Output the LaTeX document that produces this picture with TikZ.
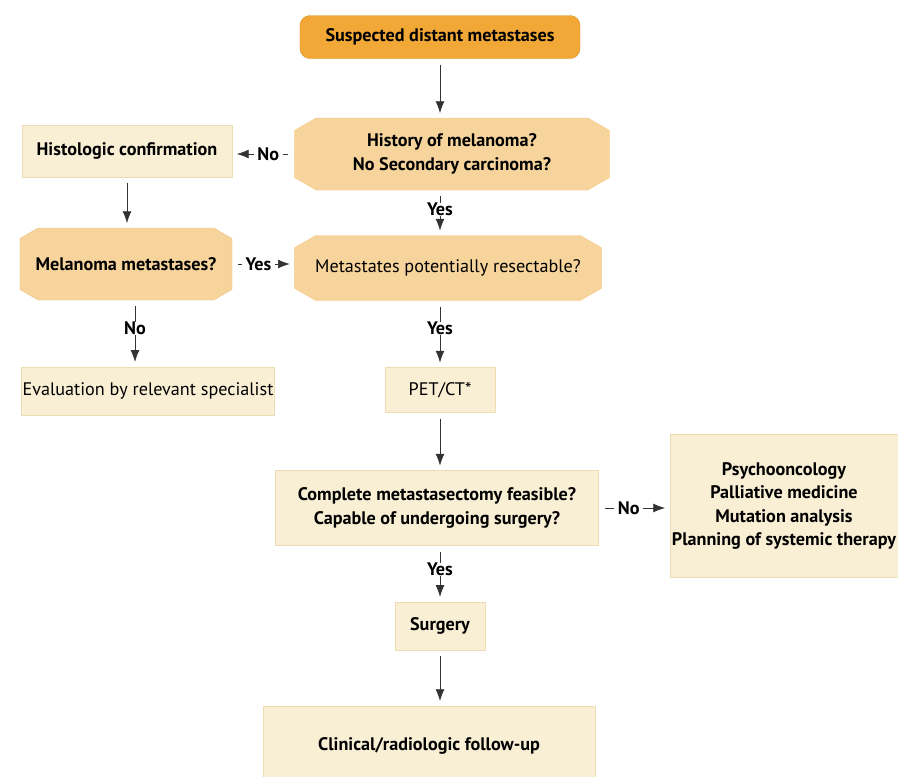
\documentclass[tikz,border=0pt]{standalone}
\usepackage{fontspec}
\setmainfont{PT Sans}
\usepackage{xcolor}
\usepackage{tikz}
\usetikzlibrary{arrows.meta,positioning,shapes.misc,calc}
\definecolor{toporange}{HTML}{F1A836}
\definecolor{hexfill}{HTML}{F6D49C}
\definecolor{boxfill}{HTML}{F9EFD5}
\definecolor{boxline}{HTML}{EEDDB4}

\begin{document}
\begin{tikzpicture}[x=0.03cm, y=-0.03cm, font=\fontsize{15.5}{20}\selectfont,
    startbox/.style={rounded corners=0.3cm, fill=toporange, draw=toporange!90!black, font=\fontsize{15.5}{20}\selectfont\bfseries, inner sep=0pt},
    question/.style={chamfered rectangle, chamfered rectangle angle=60, chamfered rectangle xsep=0.45cm, fill=hexfill, draw=hexfill!85!orange, inner sep=0pt, align=center},
    plainbox/.style={rectangle, fill=boxfill, draw=boxline, inner sep=0pt, align=center},
    bold/.style={font=\fontsize{15.5}{20}\selectfont\bfseries},
    arr/.style={-{Latex[length=10pt,width=7.5pt]}, draw=black!80, semithick, shorten <=5pt, shorten >=4pt},
    lbl/.style={fill=white, inner xsep=3pt, inner ysep=0pt, pos=0.42, font=\fontsize{15.5}{20}\selectfont\bfseries}]
    \useasboundingbox (0,0) rectangle (898,776);

    % Start
    \node[startbox, minimum width=8.4cm, minimum height=1.29cm] (susp) at (440,37) {Suspected distant metastases};

    % Questions
    \node[question, bold, minimum width=9.45cm, minimum height=2.16cm] (hist) at (452,154) {History of melanoma?\\No Secondary carcinoma?};
    \node[question, minimum width=9.2cm, minimum height=1.95cm] (resect) at (448,268) {Metastates potentially resectable?};
    \node[question, bold, minimum width=6.36cm, minimum height=2.16cm] (melmet) at (126,264) {Melanoma metastases?};

    % Boxes
    \node[plainbox, bold, minimum width=6.3cm, minimum height=1.55cm] (histo) at (127,151) {Histologic confirmation};
    \node[plainbox, minimum width=7.6cm, minimum height=1.45cm] (evalspec) at (148,391) {Evaluation by relevant specialist};
    \node[plainbox, minimum width=3.3cm, minimum height=1.35cm] (petct) at (440,390) {PET/CT*};
    \node[plainbox, bold, minimum width=9.7cm, minimum height=2.25cm] (complete) at (437,508) {Complete metastasectomy feasible?\\Capable of undergoing surgery?};
    \node[plainbox, bold, minimum width=6.84cm, minimum height=4.3cm] (palliat) at (784,506) {Psychooncology\\Palliative medicine\\Mutation analysis\\Planning of systemic therapy};
    \node[plainbox, bold, minimum width=2.7cm, minimum height=1.45cm] (surgery) at (440,626) {Surgery};
    \node[plainbox, bold, minimum width=9.95cm, minimum height=2.4cm] (followup) at (429,746) {Clinical/radiologic follow-up};

    % Connectors
    \coordinate (melout) at ($(melmet.south)+(9,0)$);
    \draw[arr] (susp.south) -- (susp.south |- hist.north);
    \draw[arr] (hist.west) -- node[lbl] {No} (hist.west -| histo.east);
    \draw[arr] (histo.south) -- (histo.south |- melmet.north);
    \draw[arr] (melmet.east) -- node[lbl] {Yes} (melmet.east -| resect.west);
    \draw[arr] (susp.south |- hist.south) -- node[lbl] {Yes} (susp.south |- resect.north);
    \draw[arr] (melout) -- node[lbl] {No} (melout |- evalspec.north);
    \draw[arr] (susp.south |- resect.south) -- node[lbl] {Yes} (petct.north);
    \draw[arr] (petct.south) -- (petct.south |- complete.north);
    \draw[arr] (complete.east) -- node[lbl] {No} (complete.east -| palliat.west);
    \draw[arr] (petct.south |- complete.south) -- node[lbl] {Yes} (surgery.north);
    \draw[arr] (surgery.south) -- (surgery.south |- followup.north);
\end{tikzpicture}
\end{document}
